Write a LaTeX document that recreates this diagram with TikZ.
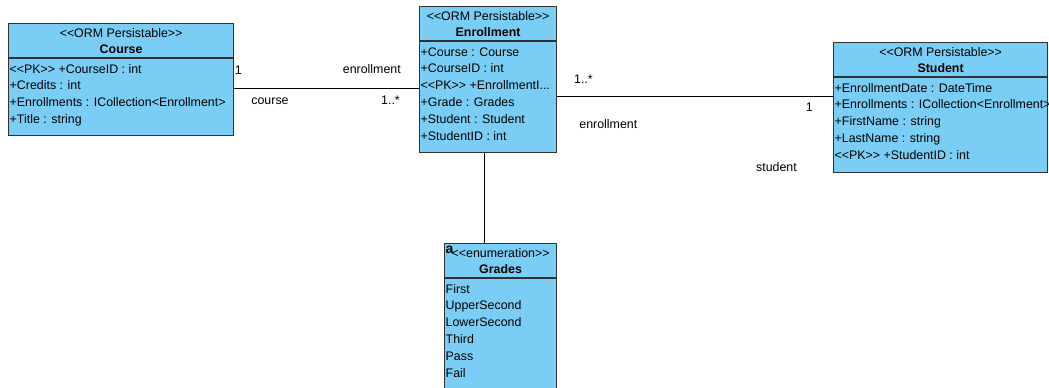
\documentclass[tikz,border=0pt]{standalone}
\usepackage{fontspec}
\setmainfont{Liberation Sans}
\usetikzlibrary{positioning}
\definecolor{classfill}{RGB}{122,206,245}
\definecolor{classedge}{RGB}{50,50,50}
\newcommand{\stype}[1]{<{}<#1>{}>}
\tikzset{
  classbox/.style={draw=classedge, fill=classfill, line width=1.2pt, anchor=north west, inner sep=0pt},
  classline/.style={draw=classedge, line width=1.2pt},
  stereo/.style={anchor=base, inner sep=0pt, font=\fontsize{12.4}{14}\selectfont},
  cname/.style={anchor=base, inner sep=0pt, font=\fontsize{12.4}{14}\selectfont\bfseries},
  attr/.style={anchor=base west, inner sep=0pt, font=\fontsize{12.4}{14}\selectfont},
  role/.style={inner sep=0pt, font=\fontsize{12.4}{14}\selectfont},
  assoc/.style={draw=black, line width=0.8pt}
}
\begin{document}
\begin{tikzpicture}[x=1pt, y=-1pt]
\useasboundingbox (0,0) rectangle (1049,388);
% Course
\node[classbox, minimum width=225pt, minimum height=112pt] (course) at (8,23) {};
\draw[classline] ([yshift=-35pt]course.north west) -- ([yshift=-35pt]course.north east);
\node[stereo] (course-st) at ([yshift=-14pt]course.north) {\stype{ORM Persistable}};
\node[cname] (course-nm) at ([yshift=-30pt]course.north) {Course};
\node[attr] (course-a1) at ([xshift=1.5pt,yshift=-50pt]course.north west) {\stype{PK} +CourseID : int};
\node[attr] (course-a2) at ([xshift=1.5pt,yshift=-66.8pt]course.north west) {+Credits : int};
\node[attr] (course-a3) at ([xshift=1.5pt,yshift=-83.6pt]course.north west) {+Enrollments : ICollection<Enrollment>};
\node[attr] (course-a4) at ([xshift=1.5pt,yshift=-100.4pt]course.north west) {+Title : string};
% Enrollment
\node[classbox, minimum width=137pt, minimum height=146pt] (enrollment) at (419,6) {};
\draw[classline] ([yshift=-35pt]enrollment.north west) -- ([yshift=-35pt]enrollment.north east);
\node[stereo] (enrollment-st) at ([yshift=-14pt]enrollment.north) {\stype{ORM Persistable}};
\node[cname] (enrollment-nm) at ([yshift=-30pt]enrollment.north) {Enrollment};
\node[attr] (enrollment-a1) at ([xshift=1.5pt,yshift=-50pt]enrollment.north west) {+Course : Course};
\node[attr] (enrollment-a2) at ([xshift=1.5pt,yshift=-66.8pt]enrollment.north west) {+CourseID : int};
\node[attr] (enrollment-a3) at ([xshift=1.5pt,yshift=-83.6pt]enrollment.north west) {\stype{PK} +EnrollmentI...};
\node[attr] (enrollment-a4) at ([xshift=1.5pt,yshift=-100.4pt]enrollment.north west) {+Grade : Grades};
\node[attr] (enrollment-a5) at ([xshift=1.5pt,yshift=-117.2pt]enrollment.north west) {+Student : Student};
\node[attr] (enrollment-a6) at ([xshift=1.5pt,yshift=-134pt]enrollment.north west) {+StudentID : int};
% Student
\node[classbox, minimum width=214pt, minimum height=130pt] (student) at (833,42) {};
\draw[classline] ([yshift=-35pt]student.north west) -- ([yshift=-35pt]student.north east);
\node[stereo] (student-st) at ([yshift=-14pt]student.north) {\stype{ORM Persistable}};
\node[cname] (student-nm) at ([yshift=-30pt]student.north) {Student};
\node[attr] (student-a1) at ([xshift=1.5pt,yshift=-50pt]student.north west) {+EnrollmentDate : DateTime};
\node[attr] (student-a2) at ([xshift=1.5pt,yshift=-66.8pt]student.north west) {+Enrollments : ICollection<Enrollment>};
\node[attr] (student-a3) at ([xshift=1.5pt,yshift=-83.6pt]student.north west) {+FirstName : string};
\node[attr] (student-a4) at ([xshift=1.5pt,yshift=-100.4pt]student.north west) {+LastName : string};
\node[attr] (student-a5) at ([xshift=1.5pt,yshift=-117.2pt]student.north west) {\stype{PK} +StudentID : int};
% Grades
\node[classbox, minimum width=112pt, minimum height=152pt] (grades) at (444,243) {};
\draw[classline] ([yshift=-35pt]grades.north west) -- ([yshift=-35pt]grades.north east);
\node[stereo] (grades-st) at ([yshift=-14pt]grades.north) {\stype{enumeration}};
\node[cname] (grades-nm) at ([yshift=-30pt]grades.north) {Grades};
\node[anchor=base west, inner sep=0pt, font=\fontsize{14}{15}\selectfont\bfseries] (grades-icon) at ([xshift=1.5pt,yshift=-10pt]grades.north west) {a};
\node[attr] (grades-a1) at ([xshift=1.5pt,yshift=-50pt]grades.north west) {First};
\node[attr] (grades-a2) at ([xshift=1.5pt,yshift=-66.8pt]grades.north west) {UpperSecond};
\node[attr] (grades-a3) at ([xshift=1.5pt,yshift=-83.6pt]grades.north west) {LowerSecond};
\node[attr] (grades-a4) at ([xshift=1.5pt,yshift=-100.4pt]grades.north west) {Third};
\node[attr] (grades-a5) at ([xshift=1.5pt,yshift=-117.2pt]grades.north west) {Pass};
\node[attr] (grades-a6) at ([xshift=1.5pt,yshift=-134pt]grades.north west) {Fail};
% associations
\coordinate (ce-start) at ([yshift=-9pt]course.east);
\coordinate (ce-end) at (ce-start -| enrollment.west);
\draw[assoc] (ce-start) -- (ce-end);
\node[role, anchor=base west] (ce-mult1) at ([xshift=0.5pt,yshift=14.5pt]ce-start) {1};
\node[role, anchor=base east] (ce-role2) at ([xshift=-18pt,yshift=14.7pt]ce-end) {enrollment};
\node[role, anchor=base west] (ce-role1) at ([xshift=17pt,yshift=-15.5pt]ce-start) {course};
\node[role, anchor=base east] (ce-mult2) at ([xshift=-19pt,yshift=-16pt]ce-end) {1..*};
\coordinate (es-start) at ([yshift=-17pt]enrollment.east);
\coordinate (es-end) at (es-start -| student.west);
\draw[assoc] (es-start) -- (es-end);
\node[role, anchor=base west] (es-mult1) at ([xshift=16.7pt,yshift=12.7pt]es-start) {1..*};
\node[role, anchor=base west] (es-role1) at ([xshift=22pt,yshift=-32.3pt]es-start) {enrollment};
\node[role, anchor=base east] (es-mult2) at ([xshift=-20pt,yshift=-14.7pt]es-end) {1};
\node[role, anchor=base east] (es-role2) at ([xshift=-36pt,yshift=-75pt]es-end) {student};
\coordinate (eg-start) at ([xshift=-3.5pt]enrollment.south);
\coordinate (eg-end) at (eg-start |- grades.north);
\draw[assoc] (eg-start) -- (eg-end);
\end{tikzpicture}
\end{document}
